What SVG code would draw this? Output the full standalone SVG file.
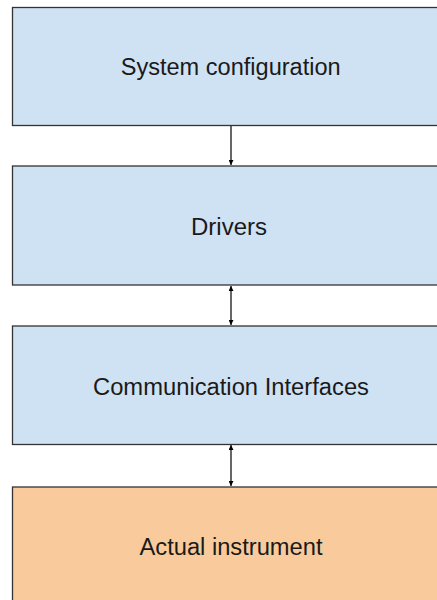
<svg xmlns="http://www.w3.org/2000/svg" width="437" height="600" viewBox="0 0 437 600">
<defs>
<style>
.box{stroke:#333333;stroke-width:1.3}
.blue{fill:#cfe2f3}
.orange{fill:#f9cb9c}
.lbl{font-family:"Liberation Sans",Arial,sans-serif;font-size:23px;fill:#1a1a1a;text-anchor:middle}
.conn{stroke:#000;stroke-width:1.2;fill:none}
</style>
<marker id="ah" viewBox="0 0 10 10" refX="10" refY="5" markerWidth="5" markerHeight="5" orient="auto-start-reverse" markerUnits="userSpaceOnUse">
<path d="M0,0 L10,5 L0,10 z" fill="#000"/>
</marker>
</defs>
<rect width="437" height="600" fill="#ffffff"/>
<g id="connectors">
<line class="conn" x1="231" y1="125" x2="231" y2="165" marker-end="url(#ah)"/>
<line class="conn" x1="231" y1="286" x2="231" y2="325" marker-start="url(#ah)" marker-end="url(#ah)"/>
<line class="conn" x1="231" y1="445" x2="231" y2="486" marker-start="url(#ah)" marker-end="url(#ah)"/>
</g>
<g id="system-configuration">
<rect class="box blue" x="12.5" y="7.5" width="440" height="118"/>
<text class="lbl" x="230.7" y="75" textLength="220" lengthAdjust="spacingAndGlyphs">System configuration</text>
</g>
<g id="drivers">
<rect class="box blue" x="12.5" y="166" width="440" height="119"/>
<text class="lbl" x="229" y="235" textLength="76" lengthAdjust="spacingAndGlyphs">Drivers</text>
</g>
<g id="communication-interfaces">
<rect class="box blue" x="12.5" y="326" width="440" height="118.5"/>
<text class="lbl" x="231" y="395" textLength="276" lengthAdjust="spacingAndGlyphs">Communication Interfaces</text>
</g>
<g id="actual-instrument">
<rect class="box orange" x="12.5" y="487" width="440" height="130"/>
<text class="lbl" x="231" y="555" textLength="183" lengthAdjust="spacingAndGlyphs">Actual instrument</text>
</g>
</svg>
